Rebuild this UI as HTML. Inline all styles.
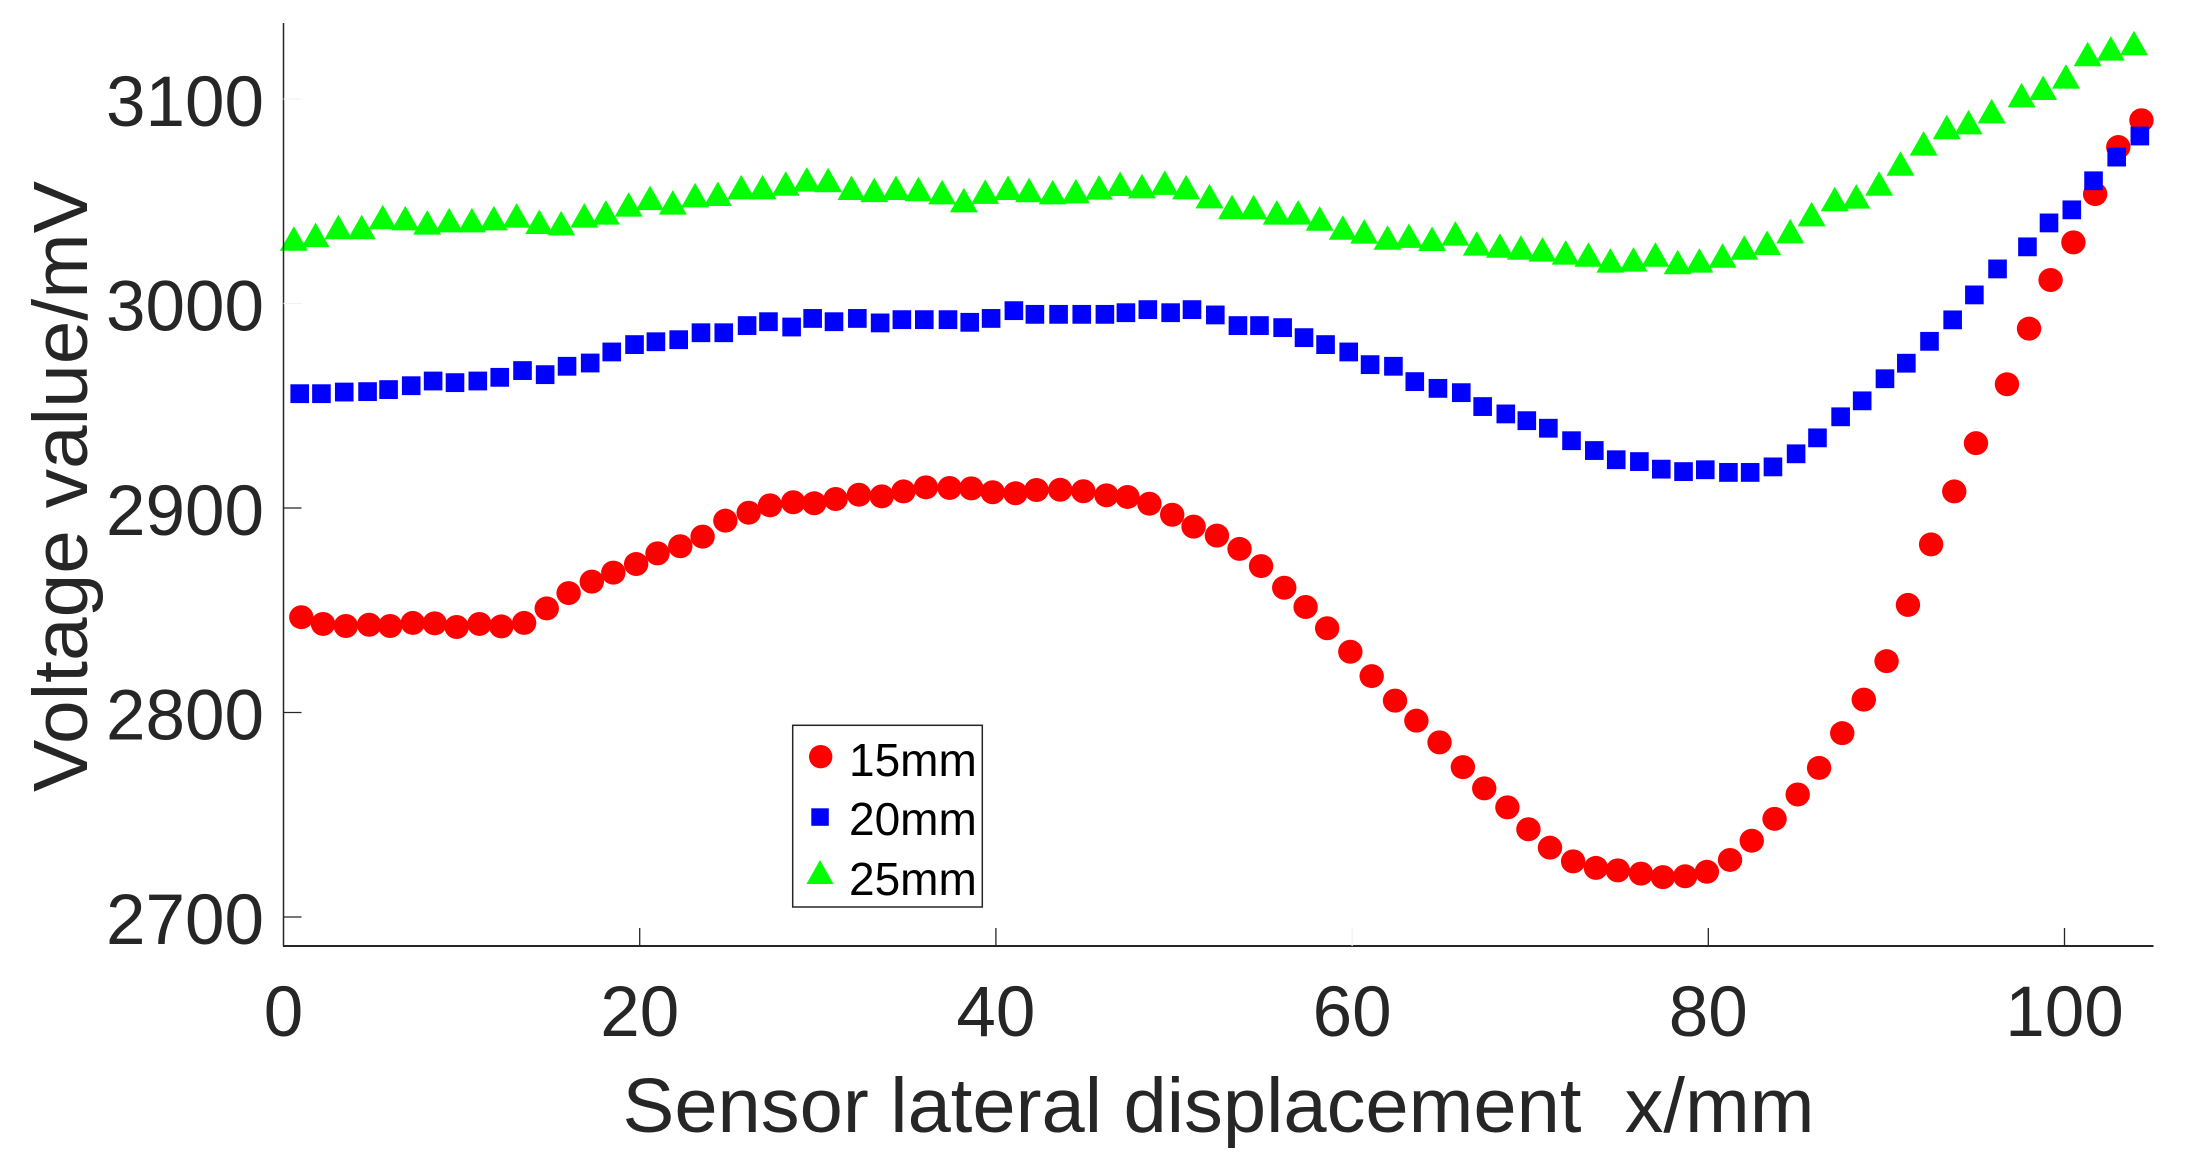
<!DOCTYPE html>
<html lang="en">
<head>
<meta charset="utf-8">
<title>Voltage vs sensor lateral displacement</title>
<style>
  html, body { margin: 0; padding: 0; background: #fff; }
  svg { display: block; }
  text { font-family: "Liberation Sans", Arial, sans-serif; }
</style>
</head>
<body>
<svg id="chart" xmlns="http://www.w3.org/2000/svg" width="2186" height="1167" viewBox="0 0 2186 1167">
  <rect width="2186" height="1167" fill="#ffffff"/>
  <g id="marks"></g>
  <g id="axes"></g>
  <text x="622.5" y="1132" font-size="77" fill="#262626" textLength="1192" lengthAdjust="spacingAndGlyphs" xml:space="preserve">Sensor lateral displacement&#160;&#160;x/mm</text>
  <text transform="translate(87,792) rotate(-90)" font-size="77" fill="#262626" textLength="611" lengthAdjust="spacingAndGlyphs">Voltage value/mV</text>
  <g>
    <rect x="792.7" y="725.3" width="189.6" height="181.7" fill="#ffffff" stroke="#262626" stroke-width="1.5"/>
    <g>
      <circle cx="820.7" cy="756.7" r="11.7" fill="#ff0000"/>
      <text x="849" y="776" font-size="46" fill="#000000">15mm</text>
    </g>
    <g>
      <rect x="811.3" y="808.3" width="17.5" height="17.5" fill="#0000ff"/>
      <text x="849" y="835" font-size="46" fill="#000000">20mm</text>
    </g>
    <g>
      <polygon points="820,860 833.5,884 806.5,884" fill="#00ff00"/>
      <text x="849" y="895" font-size="46" fill="#000000">25mm</text>
    </g>
  </g>
</svg>
<script>
const displacement = [0.58,1.80,3.08,4.39,5.57,6.84,8.07,9.30,10.58,11.81,13.09,14.36,15.59,16.89,18.10,19.38,20.58,21.86,23.11,24.39,25.70,26.90,28.20,29.38,30.58,31.89,33.17,34.39,35.65,36.98,38.20,39.40,40.68,41.86,43.19,44.49,45.79,46.97,48.20,49.48,50.68,51.99,53.26,54.47,55.77,56.97,58.18,59.48,60.68,61.99,63.19,64.49,65.80,67.00,68.30,69.48,70.69,71.99,73.27,74.50,75.80,77.03,78.28,79.50,80.80,82.02,83.30,84.60,85.80,87.10,88.31,89.59,90.79,92.09,93.39,94.61,95.91,97.59,98.80,100.08,101.30,102.60,103.90];
const displacement15mm = [1.00,2.22,3.50,4.81,5.99,7.26,8.49,9.72,11.00,12.23,13.51,14.78,16.01,17.31,18.52,19.80,21.00,22.28,23.53,24.81,26.12,27.32,28.62,29.80,31.00,32.31,33.59,34.81,36.07,37.40,38.62,39.82,41.10,42.28,43.61,44.91,46.21,47.39,48.62,49.90,51.10,52.41,53.68,54.89,56.19,57.39,58.60,59.90,61.10,62.41,63.61,64.91,66.22,67.42,68.72,69.90,71.11,72.41,73.69,74.92,76.22,77.45,78.70,79.92,81.22,82.44,83.72,85.02,86.22,87.52,88.73,90.01,91.21,92.51,93.81,95.03,96.77,98.01,99.22,100.50,101.72,103.02,104.32];
const shift20mm = 0.33;
const shift25mm = 0;
const voltage15mm = [2846.6,2843.3,2842.3,2842.9,2842.3,2843.8,2843.6,2841.8,2843.3,2842.1,2843.8,2850.9,2858.4,2864.0,2868.4,2872.6,2877.8,2881.3,2886.0,2893.8,2897.7,2901.3,2902.8,2902.3,2904.4,2906.5,2905.7,2908.1,2910.1,2909.8,2909.6,2907.7,2907.2,2908.8,2908.9,2908.2,2906.2,2905.4,2902.1,2896.7,2890.9,2886.5,2880.0,2871.6,2861.0,2851.6,2841.2,2829.7,2817.8,2805.8,2796.0,2785.4,2773.3,2762.9,2753.6,2742.9,2733.9,2727.2,2724.0,2722.8,2721.2,2719.5,2719.9,2722.1,2727.9,2737.3,2748.0,2759.9,2772.9,2789.9,2806.3,2825.1,2852.6,2882.2,2908.1,2931.7,2960.5,2987.7,3011.5,3029.9,3053.5,3076.5,3089.6];
const voltage20mm = [2955.9,2955.9,2956.7,2956.9,2957.9,2959.8,2962.1,2961.3,2962.1,2963.9,2967.2,2965.2,2969.3,2970.9,2976.3,2979.9,2981.3,2982.3,2985.7,2985.7,2989.2,2991.1,2988.5,2992.7,2991.1,2992.7,2990.5,2992.1,2992.1,2992.1,2990.8,2992.7,2996.5,2994.7,2994.7,2994.7,2994.7,2995.5,2997.0,2995.5,2997.0,2994.4,2989.2,2989.2,2988.2,2983.3,2979.9,2976.3,2970.1,2969.3,2961.8,2958.5,2956.4,2949.6,2946.0,2942.7,2939.0,2932.9,2928.1,2923.6,2922.7,2919.0,2917.8,2918.7,2917.4,2917.4,2920.1,2926.5,2934.3,2944.6,2952.4,2963.2,2970.8,2981.5,2992.0,3004.2,3016.9,3027.7,3039.4,3045.8,3060.0,3071.6,3081.9];
const voltage25mm = [3029.7,3031.5,3035.3,3035.3,3040.2,3039.7,3037.6,3038.7,3038.7,3039.7,3041.0,3037.9,3037.2,3041.0,3042.5,3046.4,3049.6,3047.4,3050.9,3051.6,3054.8,3054.8,3056.6,3058.6,3058.3,3054.5,3053.5,3054.5,3053.9,3052.4,3048.5,3052.6,3054.5,3053.4,3052.4,3052.9,3054.7,3056.5,3055.3,3057.0,3054.8,3050.4,3045.2,3045.1,3042.5,3042.5,3039.5,3035.1,3033.2,3030.2,3031.1,3029.6,3032.2,3027.3,3026.3,3025.3,3024.4,3022.9,3021.9,3019.0,3019.5,3021.9,3018.2,3019.0,3021.4,3025.3,3027.6,3033.3,3041.6,3049.0,3050.3,3056.6,3066.4,3076.2,3084.2,3086.6,3092.0,3099.8,3103.4,3109.0,3119.9,3122.7,3125.3];
const xTickValues = [0,20,40,60,80,100];
const xTickLabels = ["0","20","40","60","80","100"];
const yTickValues = [2700,2800,2900,3000,3100];
const yTickLabels = ["2700","2800","2900","3000","3100"];
const fadedXTicks = [60];
const fadedYTicks = [3000,3100];

const SVG_NS = 'http://www.w3.org/2000/svg';
const xScale = function (v) { return 283.5 + v * 17.81; };
const yScale = function (v) { return 917 - (v - 2700) * 2.045; };
const marks = document.getElementById('marks');
const axes = document.getElementById('axes');
const INK = '#262626';

function make(tag, attrs, parent) {
  const el = document.createElementNS(SVG_NS, tag);
  Object.keys(attrs).forEach(function (k) { el.setAttribute(k, attrs[k]); });
  parent.appendChild(el);
  return el;
}

const groupRed = make('g', { fill: '#ff0000' }, marks);


voltage15mm.forEach(function (v, i) {
  const c = make('ellipse', { cx: xScale(displacement15mm[i]), cy: yScale(v), rx: 12.2, ry: 12 }, groupRed);
  
  
});

const groupBlue = make('g', { fill: '#0000ff' }, marks);


voltage20mm.forEach(function (v, i) {
  const r = make('rect', { x: xScale(displacement[i] + shift20mm) - 9.3, y: yScale(v) - 9.4, width: 18.6, height: 18.8 }, groupBlue);
  
  
});

const groupGreen = make('g', { fill: '#00ff00' }, marks);


voltage25mm.forEach(function (v, i) {
  const px = xScale(displacement[i] + shift25mm);
  const py = yScale(v);
  const pts = px + ',' + (py - 16.5) + ' ' + (px + 14) + ',' + (py + 8) + ' ' + (px - 14) + ',' + (py + 8);
  const t = make('polygon', { points: pts }, groupGreen);
  
  
});

const yAxisLine = make('line', { x1: 283.5, y1: 23, x2: 283.5, y2: 946, stroke: INK, 'stroke-width': 1.5 }, axes);


const xAxisLine = make('line', { x1: 283, y1: 946, x2: 2153.5, y2: 946, stroke: INK, 'stroke-width': 2 }, axes);



xTickValues.forEach(function (v, i) {
  if (v !== 0) {
    const faded = fadedXTicks.indexOf(v) >= 0;
    const tick = make('line', { x1: xScale(v), y1: 946, x2: xScale(v), y2: 928, stroke: faded ? '#f2f2f2' : INK, 'stroke-width': 1.3 }, axes);
    
    
  }
  const label = make('text', { x: xScale(v), y: 1036, 'font-size': 71, fill: INK, 'text-anchor': 'middle' }, axes);
  
  
  label.textContent = xTickLabels[i];
});

yTickValues.forEach(function (v, i) {
  const faded = fadedYTicks.indexOf(v) >= 0;
  const tick = make('line', { x1: 283.5, y1: yScale(v), x2: 301.5, y2: yScale(v), stroke: faded ? '#f2f2f2' : INK, 'stroke-width': 1.3 }, axes);
  
  
  const label = make('text', { x: 264, y: yScale(v) + 27, 'font-size': 71, fill: INK, 'text-anchor': 'end' }, axes);
  
  
  label.textContent = yTickLabels[i];
});
</script>
</body>
</html>
